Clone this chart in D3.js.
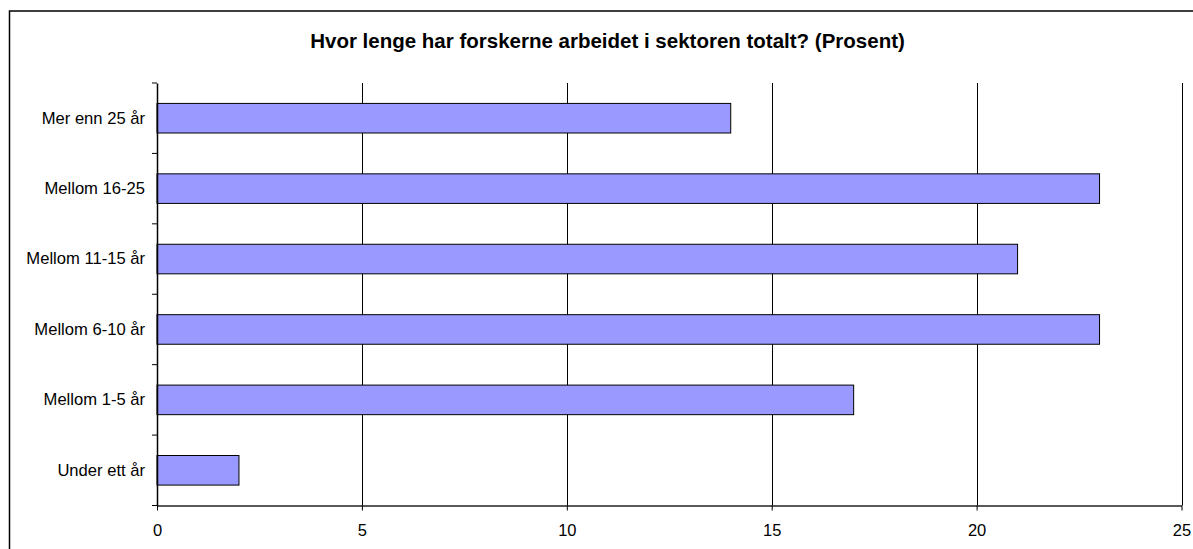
<!DOCTYPE html>
<html>
<head>
<meta charset="utf-8">
<script src="https://cdn.jsdelivr.net/npm/d3@7"></script>
<style>
  body { margin: 0; background: #fff; }
  svg { display: block; font-family: "Liberation Sans", Arial, sans-serif; }
</style>
</head>
<body>
<div id="chart"></div>
<script>
// Data
const categories = ['Mer enn 25 år', 'Mellom 16-25', 'Mellom 11-15 år', 'Mellom 6-10 år', 'Mellom 1-5 år', 'Under ett år'];
const values = [14, 23, 21, 23, 17, 2];
const xTicks = [0, 5, 10, 15, 20, 25];
const title = 'Hvor lenge har forskerne arbeidet i sektoren totalt? (Prosent)';

const width = 1193;
const height = 549;
const plot = { left: 157, right: 1181.5, top: 83, bottom: 505.5 };

const svg = d3.select('#chart')
  .append('svg')
  .attr('width', width)
  .attr('height', height);

// outer chart border (runs off the right and bottom edges)
svg.append('rect')
  .attr('x', 9.5)
  .attr('y', 11)
  .attr('width', 1220)
  .attr('height', 600)
  .attr('fill', 'none')
  .attr('stroke', '#000')
  .attr('stroke-width', 1.5);

svg.append('text')
  .attr('x', 607.5)
  .attr('y', 47.5)
  .attr('text-anchor', 'middle')
  .style('font-size', '20.5px')
  .style('font-weight', 'bold')
  .text(title);

const x = d3.scaleLinear()
  .domain([0, 25])
  .range([plot.left, plot.right]);

const y = d3.scaleBand()
  .domain(categories)
  .range([plot.top, plot.bottom]);

// vertical gridlines
svg.append('g')
  .selectAll('line')
  .data(xTicks.filter(d => d > 0))
  .join('line')
  .attr('x1', d => Math.round(x(d)) + 0.5)
  .attr('x2', d => Math.round(x(d)) + 0.5)
  .attr('y1', plot.top)
  .attr('y2', plot.bottom)
  .attr('stroke', '#000')
  .attr('stroke-width', 1);

// bars
const barH = y.bandwidth() * 0.42;
svg.append('g')
  .selectAll('rect')
  .data(categories)
  .join('rect')
  .attr('x', x(0))
  .attr('y', d => y(d) + (y.bandwidth() - barH) / 2)
  .attr('width', (d, i) => x(values[i]) - x(0))
  .attr('height', barH)
  .attr('fill', '#9999FF')
  .attr('stroke', '#000')
  .attr('stroke-width', 1);

// x axis
const xAxis = svg.append('g')
  .attr('transform', `translate(0,${plot.bottom})`)
  .call(d3.axisBottom(x).tickValues(xTicks).tickSize(5).tickPadding(14).tickSizeOuter(0));
xAxis.select('.domain').attr('stroke', '#222').attr('stroke-width', 1.5);
xAxis.selectAll('.tick line').attr('stroke', '#000');
xAxis.selectAll('.tick text')
  .style('font-size', '16.5px')
  .attr('fill', '#000')
  .attr('font-family', null);

// y axis with ticks on category boundaries
const yAxis = svg.append('g')
  .attr('transform', `translate(${plot.left},0)`)
  .call(d3.axisLeft(y).tickSize(0).tickPadding(12).tickSizeOuter(0));
yAxis.select('.domain').attr('stroke', '#000').attr('stroke-width', 1.5);
yAxis.selectAll('.tick text')
  .style('font-size', '16.6px')
  .attr('fill', '#000')
  .attr('font-family', null);

svg.append('g')
  .selectAll('line')
  .data(categories.map(d => y(d)).concat([plot.bottom]))
  .join('line')
  .attr('x1', plot.left - 5)
  .attr('x2', plot.left)
  .attr('y1', d => d)
  .attr('y2', d => d)
  .attr('stroke', '#000')
  .attr('stroke-width', 1);
</script>
</body>
</html>
